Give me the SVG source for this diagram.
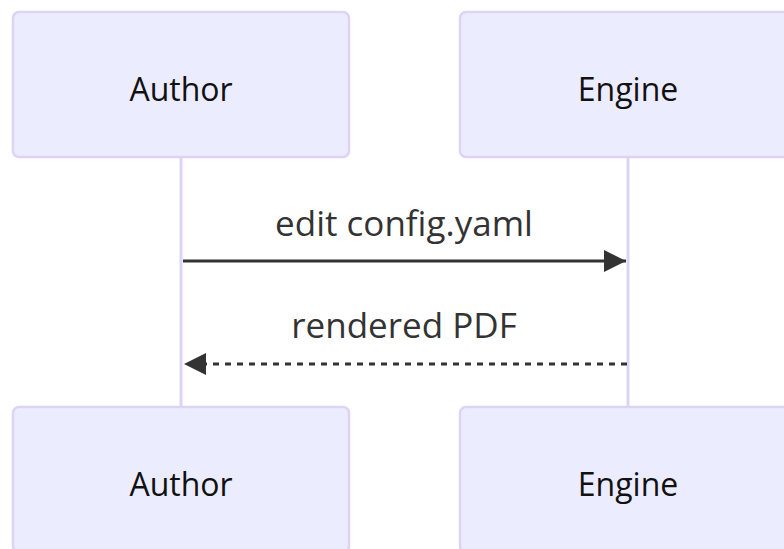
<svg xmlns="http://www.w3.org/2000/svg" width="784" height="549" viewBox="0 0 784 549">
<defs>
<style>
.actor{fill:#ECECFF;stroke:#DDD3F6;stroke-width:2.5}
.atext{font-family:"Open Sans","DejaVu Sans",sans-serif;font-size:32px;font-weight:500;fill:#111;text-anchor:middle;dominant-baseline:central}
.mtext{font-family:"Open Sans","DejaVu Sans",sans-serif;font-size:35px;font-weight:500;fill:#333;text-anchor:middle}
.life{stroke:#DDD3F6;stroke-width:3;fill:none}
.msg{stroke:#333;stroke-width:3;fill:none}
.dot{stroke-dasharray:6,6}
</style>
<marker id="arrowh" viewBox="0 0 12 12" refX="12" refY="6" markerWidth="22" markerHeight="22" markerUnits="userSpaceOnUse" orient="auto">
<path d="M0,0 L12,6 L0,12 z" fill="#333"/>
</marker>
</defs>
<g id="lifelines">
<line class="life" x1="181" y1="157" x2="181" y2="407"/>
<line class="life" x1="628" y1="157" x2="628" y2="407"/>
</g>
<g id="Author-top"><rect class="actor" x="13" y="12" width="336" height="145" rx="6"/><text class="atext" x="181" y="88">Author</text></g>
<g id="Engine-top"><rect class="actor" x="460" y="12" width="336" height="145" rx="6"/><text class="atext" x="628" y="88">Engine</text></g>
<g id="Author-bottom"><rect class="actor" x="13" y="407" width="336" height="145" rx="6"/><text class="atext" x="181" y="483">Author</text></g>
<g id="Engine-bottom"><rect class="actor" x="460" y="407" width="336" height="145" rx="6"/><text class="atext" x="628" y="483">Engine</text></g>
<g id="connectors">
<line class="msg" x1="183" y1="261" x2="626" y2="261" marker-end="url(#arrowh)"/>
<text class="mtext" x="404" y="236">edit config.yaml</text>
<line class="msg dot" x1="627" y1="364" x2="184" y2="364" marker-end="url(#arrowh)"/>
<text class="mtext" x="404" y="338">rendered PDF</text>
</g>
</svg>
